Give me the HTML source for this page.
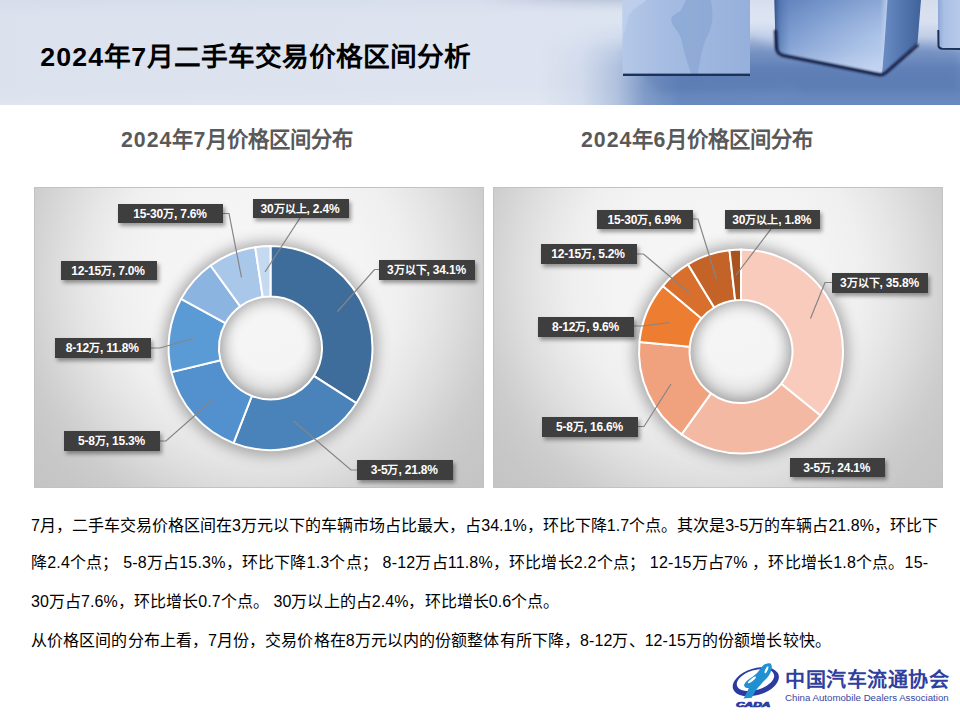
<!DOCTYPE html>
<html lang="zh-CN">
<head>
<meta charset="utf-8">
<title>2024年7月二手车交易价格区间分析</title>
<style>
html,body{margin:0;padding:0;}
body{width:960px;height:720px;position:relative;overflow:hidden;background:#fff;font-family:"Liberation Sans",sans-serif;}
.abs{position:absolute;}
#hdr{position:absolute;left:0;top:0;width:960px;height:105px;}
#title{position:absolute;left:40.3px;top:38px;font-size:26.7px;font-weight:bold;color:#000;line-height:38px;white-space:nowrap;}
.d{letter-spacing:1.15px}.e{letter-spacing:1px}
.sub{position:absolute;top:125px;font-size:21.3px;font-weight:bold;color:#595959;line-height:30px;white-space:nowrap;}
.panel{position:absolute;top:187px;width:450px;height:301px;box-sizing:border-box;border:1px solid #c2c2c2;
 background:radial-gradient(ellipse 270px 280px at 50% 30%, #f6f6f6 0%, #f4f4f4 38%, #efefef 54%, #e6e6e6 65%, #dcdcdc 75%, #d3d3d3 83%, #cccccc 90%, #c7c7c7 100%, #c4c4c4 112%);}
#charts{position:absolute;left:0;top:0;width:960px;height:720px;}
.lb{position:absolute;background:#3e3e3e;color:#fff;font-size:12px;font-weight:bold;text-align:center;white-space:nowrap;letter-spacing:-0.2px;box-sizing:border-box;padding-right:1px;
 box-shadow:2px 3px 4px rgba(0,0,0,.38);}
.lb .c{font-size:11px;letter-spacing:0}
.tx{position:absolute;left:31px;font-size:16px;color:#000;line-height:22px;white-space:nowrap;}
#cn{position:absolute;left:785px;top:667px;font-family:"Liberation Serif",serif;font-weight:bold;font-size:20px;letter-spacing:.55px;color:#2f3fa0;line-height:26px;white-space:nowrap;}
#en{position:absolute;left:785px;top:690.5px;font-size:9.7px;color:#3446a3;line-height:14px;white-space:nowrap;}
</style>
</head>
<body>
<svg id="hdr" viewBox="0 0 960 105">
<defs>
<linearGradient id="hb" x1="0" y1="0" x2="1" y2="0">
<stop offset="0" stop-color="#dbe1ed"/><stop offset=".45" stop-color="#dde3ef"/><stop offset=".6" stop-color="#dde4f1"/><stop offset=".8" stop-color="#dce4f3"/><stop offset="1" stop-color="#d8e0f0"/>
</linearGradient>
<linearGradient id="hv" x1="0" y1="0" x2="0" y2="1">
<stop offset="0" stop-color="#cfd7e8" stop-opacity=".45"/><stop offset=".22" stop-color="#dfe5f1" stop-opacity="0"/><stop offset=".8" stop-color="#fff" stop-opacity="0"/><stop offset="1" stop-color="#fff" stop-opacity=".12"/>
</linearGradient>
<linearGradient id="fl" x1="0" y1="0" x2="0" y2="1">
<stop offset="0" stop-color="#86a1d0" stop-opacity="0"/><stop offset=".18" stop-color="#86a1d0" stop-opacity=".3"/><stop offset=".36" stop-color="#7a97c9" stop-opacity=".85"/><stop offset=".55" stop-color="#6b8bc1" stop-opacity="1"/><stop offset=".8" stop-color="#6586bc" stop-opacity="1"/><stop offset="1" stop-color="#6a8abf" stop-opacity="1"/>
</linearGradient>
<linearGradient id="flm" gradientUnits="userSpaceOnUse" x1="540" y1="0" x2="680" y2="0">
<stop offset="0" stop-color="#fff" stop-opacity="0"/><stop offset=".3" stop-color="#fff" stop-opacity=".1"/><stop offset=".55" stop-color="#fff" stop-opacity=".38"/><stop offset=".75" stop-color="#fff" stop-opacity=".8"/><stop offset="1" stop-color="#fff" stop-opacity="1"/>
</linearGradient>
<mask id="fm"><rect x="470" y="0" width="490" height="105" fill="url(#flm)"/></mask>
<linearGradient id="tp" x1="0" y1="0" x2="0" y2="1">
<stop offset="0" stop-color="#8f9fbd" stop-opacity=".9"/><stop offset="1" stop-color="#b8c4da" stop-opacity="0"/>
</linearGradient>
<linearGradient id="tpm" gradientUnits="userSpaceOnUse" x1="480" y1="0" x2="640" y2="0"><stop offset="0" stop-color="#fff" stop-opacity="0"/><stop offset=".6" stop-color="#fff" stop-opacity=".35"/><stop offset="1" stop-color="#fff" stop-opacity=".4"/></linearGradient>
<mask id="tm"><rect x="480" y="0" width="145" height="105" fill="url(#tpm)"/></mask>
<linearGradient id="c1" x1="0" y1="0" x2="1" y2="0">
<stop offset="0" stop-color="#b5c8e8"/><stop offset=".3" stop-color="#a7bde2"/><stop offset="1" stop-color="#95b0db"/>
</linearGradient>
<linearGradient id="c2" x1="0" y1="0" x2="1" y2=".75">
<stop offset="0" stop-color="#5c7fb9"/><stop offset=".25" stop-color="#7797cc"/><stop offset=".55" stop-color="#95b0dc"/><stop offset=".8" stop-color="#abc2e7"/><stop offset="1" stop-color="#b9cdee"/>
</linearGradient>
<linearGradient id="c2e" x1="0" y1="0" x2="1" y2="0">
<stop offset="0" stop-color="#2c4a82" stop-opacity=".85"/><stop offset=".05" stop-color="#4568a3" stop-opacity=".45"/><stop offset=".14" stop-color="#5c7fb9" stop-opacity="0"/><stop offset=".93" stop-color="#c9d9f3" stop-opacity="0"/><stop offset="1" stop-color="#d2e0f6" stop-opacity=".7"/>
</linearGradient>
<linearGradient id="c2r" x1="0" y1="0" x2="1" y2="0">
<stop offset="0" stop-color="#6a8cc3"/><stop offset=".5" stop-color="#5477b0"/><stop offset="1" stop-color="#41639b"/>
</linearGradient>
<linearGradient id="c2v" x1="0" y1="0" x2="0" y2="1">
<stop offset="0" stop-color="#5b7db7" stop-opacity=".25"/><stop offset=".5" stop-color="#7e9bcd" stop-opacity="0"/><stop offset=".8" stop-color="#fff" stop-opacity=".08"/><stop offset="1" stop-color="#fff" stop-opacity=".15"/>
</linearGradient>
<linearGradient id="c3" x1="0" y1="0" x2="1" y2="0"><stop offset="0" stop-color="#8ea8d6"/><stop offset=".25" stop-color="#aabfe5"/><stop offset="1" stop-color="#b9cbeb"/></linearGradient>
<filter id="b2"><feGaussianBlur stdDeviation="2"/></filter>
<filter id="b4" x="-20%" y="-40%" width="140%" height="180%"><feGaussianBlur stdDeviation="5"/></filter>
<filter id="b12"><feGaussianBlur stdDeviation="1.1"/></filter>
<filter id="b1"><feGaussianBlur stdDeviation=".7"/></filter>
</defs>
<rect width="960" height="105" fill="url(#hb)"/>
<rect width="960" height="105" fill="url(#hv)"/>
<rect x="480" y="0" width="145" height="12" fill="url(#tp)" mask="url(#tm)"/>
<rect x="470" y="22" width="490" height="83" fill="url(#fl)" mask="url(#fm)"/>
<!-- shadows -->
<g filter="url(#b4)" opacity=".22">
<polygon points="640,74 752,36 800,60 800,88 660,92" fill="#3b5c96"/>
<polygon points="776,50 882,72 918,42 960,50 960,92 800,92" fill="#3b5c96"/>
</g>
<!-- cube 1 -->
<rect x="622.5" y="0" width="127.5" height="75" fill="url(#c1)"/>
<path d="M686 0 L682.5 7.5 L680 11.5 Q672 15 671 19 Q671.5 24 675 28 Q679 33 680.6 37.5 Q683 45 684.4 52.5 Q686 58 688 64 L691.5 75 L697.5 75 Q699 66 701 56 Q702.5 48 705 41 Q709 34 710.6 28 Q713 21 712.5 15 Q712.5 7 710.6 0Z" fill="#8ca8d5" opacity=".85"/>
<path d="M692.5 77 L697 77 L694 88 Z" fill="#5b7cb5" opacity=".45"/>
<path d="M622.5 0 L646 0 C640 6 630 10 628 18 C626 26 624 34 622.5 40Z" fill="#c2d3ee" opacity=".7"/>
<rect x="623" y="73.6" width="127" height="2.4" fill="#1d3058" filter="url(#b1)"/>
<!-- cube 2 -->
<polygon points="774.5,0 888,0 882,74.5 780,54 775.5,48" fill="url(#c2)"/>
<polygon points="774.5,0 888,0 882,74.5 780,54 775.5,48" fill="url(#c2v)"/>
<polygon points="774.5,0 888,0 882,74.5 780,54 775.5,48" fill="url(#c2e)"/>
<polygon points="887.5,0 921,0 917.5,43 882.5,74.5" fill="url(#c2r)"/>
<path d="M775.5 30 L776.5 49 Q777.5 54 783 55.5 L877 74.3 Q882.5 76 886 72.5 L918 44.5" fill="none" stroke="#121f40" stroke-width="3" filter="url(#b12)"/>
<path d="M775.2 0 L775.2 48" stroke="#2b4478" stroke-width="2" filter="url(#b1)"/>
<!-- cube 3 -->
<rect x="938" y="0" width="24" height="48" fill="url(#c3)"/>
<path d="M938.3 30 L938.5 46 Q939 48.5 942 48.7 L960 49" fill="none" stroke="#1d3058" stroke-width="2" filter="url(#b1)"/>
</svg>

<div id="title"><span class="d">2024</span>年<span class="d">7</span>月二手车交易价格区间分析</div>
<div class="sub" style="left:121px"><span class="e">2024</span>年<span class="e">7</span>月价格区间分布</div>
<div class="sub" style="left:581px"><span class="e">2024</span>年<span class="e">6</span>月价格区间分布</div>
<div class="panel" style="left:34px"></div>
<div class="panel" style="left:493px"></div>
<svg id="charts" viewBox="0 0 960 720">
<defs>
<filter id="ds" x="-50%" y="-60%" width="200%" height="220%"><feGaussianBlur stdDeviation="7"/></filter>
<radialGradient id="hole" cx=".5" cy=".38" r=".62"><stop offset="0" stop-color="#000" stop-opacity="0"/><stop offset=".55" stop-color="#000" stop-opacity="0"/><stop offset="1" stop-color="#000" stop-opacity=".1"/></radialGradient>
</defs>
<g filter="url(#ds)" opacity=".4">
<circle cx="270.5" cy="348.5" r="77.5" fill="none" stroke="#3a3a3a" stroke-width="59"/>
<circle cx="741" cy="352" r="77.5" fill="none" stroke="#3a3a3a" stroke-width="59"/>
</g>
<circle cx="270.5" cy="348" r="51" fill="url(#hole)"/>
<circle cx="741" cy="351.5" r="51" fill="url(#hole)"/>
<path d="M270.50 246.00A102 102 0 0 1 356.28 403.19L313.81 375.87A51.5 51.5 0 0 0 270.50 296.50Z" fill="#3f6d9b" stroke="#fff" stroke-width="2" stroke-linejoin="round"/>
<path d="M356.28 403.19A102 102 0 0 1 233.55 443.07L251.84 396.00A51.5 51.5 0 0 0 313.81 375.87Z" fill="#4a83b9" stroke="#fff" stroke-width="2" stroke-linejoin="round"/>
<path d="M233.55 443.07A102 102 0 0 1 171.39 372.12L220.46 360.18A51.5 51.5 0 0 0 251.84 396.00Z" fill="#5291cd" stroke="#fff" stroke-width="2" stroke-linejoin="round"/>
<path d="M171.39 372.12A102 102 0 0 1 181.12 298.86L225.37 323.19A51.5 51.5 0 0 0 220.46 360.18Z" fill="#5b9bd5" stroke="#fff" stroke-width="2" stroke-linejoin="round"/>
<path d="M181.12 298.86A102 102 0 0 1 210.55 265.48L240.23 306.34A51.5 51.5 0 0 0 225.37 323.19Z" fill="#8cb4e0" stroke="#fff" stroke-width="2" stroke-linejoin="round"/>
<path d="M210.55 265.48A102 102 0 0 1 255.18 247.16L262.76 297.08A51.5 51.5 0 0 0 240.23 306.34Z" fill="#a9c7e9" stroke="#fff" stroke-width="2" stroke-linejoin="round"/>
<path d="M255.18 247.16A102 102 0 0 1 270.50 246.00L270.50 296.50A51.5 51.5 0 0 0 262.76 297.08Z" fill="#c5d9f1" stroke="#fff" stroke-width="2" stroke-linejoin="round"/>
<path d="M741.00 249.50A102 102 0 0 1 820.40 415.52L781.09 383.83A51.5 51.5 0 0 0 741.00 300.00Z" fill="#f8cbbd" stroke="#fff" stroke-width="2" stroke-linejoin="round"/>
<path d="M820.40 415.52A102 102 0 0 1 681.57 434.39L710.99 393.35A51.5 51.5 0 0 0 781.09 383.83Z" fill="#f4b9a3" stroke="#fff" stroke-width="2" stroke-linejoin="round"/>
<path d="M681.57 434.39A102 102 0 0 1 639.45 341.90L689.73 346.65A51.5 51.5 0 0 0 710.99 393.35Z" fill="#f0a17d" stroke="#fff" stroke-width="2" stroke-linejoin="round"/>
<path d="M639.45 341.90A102 102 0 0 1 662.82 285.99L701.53 318.42A51.5 51.5 0 0 0 689.73 346.65Z" fill="#ed7d31" stroke="#fff" stroke-width="2" stroke-linejoin="round"/>
<path d="M662.82 285.99A102 102 0 0 1 687.98 264.36L714.23 307.50A51.5 51.5 0 0 0 701.53 318.42Z" fill="#d86f2c" stroke="#fff" stroke-width="2" stroke-linejoin="round"/>
<path d="M687.98 264.36A102 102 0 0 1 729.49 250.15L735.19 300.33A51.5 51.5 0 0 0 714.23 307.50Z" fill="#c46328" stroke="#fff" stroke-width="2" stroke-linejoin="round"/>
<path d="M729.49 250.15A102 102 0 0 1 741.00 249.50L741.00 300.00A51.5 51.5 0 0 0 735.19 300.33Z" fill="#a9531f" stroke="#fff" stroke-width="2" stroke-linejoin="round"/>
<polyline points="223,213.5 229,213.5 241.5,277.5" fill="none" stroke="#858585" stroke-width="1.2"/>
<polyline points="300,218 265,272" fill="none" stroke="#858585" stroke-width="1.2"/>
<polyline points="150.5,348 160,348 193,338.5" fill="none" stroke="#858585" stroke-width="1.2"/>
<polyline points="160,441 166,441 212.5,400" fill="none" stroke="#858585" stroke-width="1.2"/>
<polyline points="379,269.5 374.5,269.5 337.5,311.5" fill="none" stroke="#858585" stroke-width="1.2"/>
<polyline points="357,470 351,470 293.5,421" fill="none" stroke="#858585" stroke-width="1.2"/>
<polyline points="693,219 698,219 716.5,279" fill="none" stroke="#858585" stroke-width="1.2"/>
<polyline points="771,229 736,275" fill="none" stroke="#858585" stroke-width="1.2"/>
<polyline points="636.5,254 643.5,254 690,293.5" fill="none" stroke="#858585" stroke-width="1.2"/>
<polyline points="634,326 642.5,326 670,322.5" fill="none" stroke="#858585" stroke-width="1.2"/>
<polyline points="638,426.5 644,426.5 671,384" fill="none" stroke="#858585" stroke-width="1.2"/>
<polyline points="832,282.5 825,282.5 810.5,318.5" fill="none" stroke="#858585" stroke-width="1.2"/>
</svg>
<div class="lb" style="left:118px;top:204px;width:105px;height:19px;line-height:20.6px">15-30<span class="c">万</span>, 7.6%</div>
<div class="lb" style="left:252.5px;top:199px;width:96px;height:19px;line-height:20.6px">30<span class="c">万以上</span>, 2.4%</div>
<div class="lb" style="left:60.5px;top:260.5px;width:96px;height:19.5px;line-height:21.1px">12-15<span class="c">万</span>, 7.0%</div>
<div class="lb" style="left:55px;top:338px;width:95.5px;height:20px;line-height:21.6px">8-12<span class="c">万</span>, 11.8%</div>
<div class="lb" style="left:64px;top:431px;width:96px;height:19.5px;line-height:21.1px">5-8<span class="c">万</span>, 15.3%</div>
<div class="lb" style="left:379px;top:260px;width:96px;height:19.5px;line-height:21.1px">3<span class="c">万以下</span>, 34.1%</div>
<div class="lb" style="left:357px;top:460px;width:95.5px;height:20px;line-height:21.6px">3-5<span class="c">万</span>, 21.8%</div>
<div class="lb" style="left:596.5px;top:209.5px;width:96.5px;height:19.5px;line-height:21.1px">15-30<span class="c">万</span>, 6.9%</div>
<div class="lb" style="left:724.5px;top:209.5px;width:95.5px;height:19.5px;line-height:21.1px">30<span class="c">万以上</span>, 1.8%</div>
<div class="lb" style="left:540.5px;top:244px;width:96px;height:20px;line-height:21.6px">12-15<span class="c">万</span>, 5.2%</div>
<div class="lb" style="left:538px;top:316.5px;width:96px;height:20px;line-height:21.6px">8-12<span class="c">万</span>, 9.6%</div>
<div class="lb" style="left:542px;top:416.5px;width:96px;height:20px;line-height:21.6px">5-8<span class="c">万</span>, 16.6%</div>
<div class="lb" style="left:832px;top:272.5px;width:96px;height:20px;line-height:21.6px">3<span class="c">万以下</span>, 35.8%</div>
<div class="lb" style="left:789.5px;top:457.5px;width:95.5px;height:19.5px;line-height:21.1px">3-5<span class="c">万</span>, 24.1%</div>
<div class="tx" style="top:515px;letter-spacing:.016px">7月，二手车交易价格区间在3万元以下的车辆市场占比最大，占34.1%，环比下降1.7个点。其次是3-5万的车辆占21.8%，环比下</div>
<div class="tx" style="top:552px;letter-spacing:.19px">降2.4个点； 5-8万占15.3%，环比下降1.3个点； 8-12万占11.8%，环比增长2.2个点； 12-15万占7% ，环比增长1.8个点。15-</div>
<div class="tx" style="top:590.5px;letter-spacing:.073px">30万占7.6%，环比增长0.7个点。 30万以上的占2.4%，环比增长0.6个点。</div>
<div class="tx" style="top:630px;letter-spacing:.093px">从价格区间的分布上看，7月份，交易价格在8万元以内的份额整体有所下降，8-12万、12-15万的份额增长较快。</div>
<svg class="abs" style="left:730px;top:660px;width:52px;height:50px" viewBox="0 0 52 50">
<g transform="rotate(-17 25.8 21.8)">
<ellipse cx="25.8" cy="21.8" rx="23.8" ry="13.4" fill="#2c3ba0"/>
<ellipse cx="26" cy="20" rx="19.3" ry="9.9" fill="#fff"/>
</g>
<path d="M40.5 3.6C42 5 42 7.500 41.6 9.300C41 12 40 13.800 39 15.300C37 18.500 34.500 20.500 32.300 22.800C30 25.500 27.500 28 25.500 31C24 33.500 22.800 36 21.800 37.800L13.500 38.500C14.500 37 15.300 35.500 16 34C17 32 18 30 18.800 28C17.500 28 16 28 15 26.900C14 26 13.800 25 14.300 24.300C15 22.800 16 21.500 17.300 20.500C19 19 20.800 17.900 22.500 16.800C24 15.600 25.600 14.300 27 13C28 12 29.200 10.600 30 9.300C31 7.800 32 6.500 33 5.500C35 3.800 38.500 2.600 40.500 3.600Z" fill="#2090d2"/>
<ellipse cx="36.5" cy="9.8" rx="1.15" ry="3.8" transform="rotate(24 36.5 9.8)" fill="#fff"/>
<ellipse cx="21.9" cy="19.9" rx="1.3" ry="5.1" transform="rotate(51 21.9 19.9)" fill="#fff"/>
<text x="6" y="46.8" font-family="Liberation Sans, sans-serif" font-weight="bold" font-style="italic" font-size="7" fill="#2c3ba0" textLength="34.5" lengthAdjust="spacingAndGlyphs" stroke="#2c3ba0" stroke-width=".7">CADA</text>
</svg>

<div id="cn">中国汽车流通协会</div>
<div id="en">China Automobile Dealers Association</div>
</body>
</html>
